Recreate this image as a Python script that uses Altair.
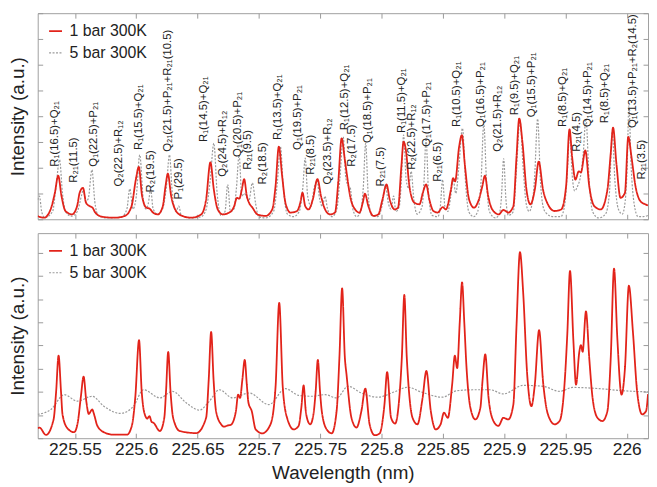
import altair as alt
import pandas as pd

S1 = "1 bar 300K"
S2 = "5 bar 300K"

# (wavelength nm, intensity a.u.)
top_1bar = [
    (225.5197, 0.12), (225.5248, 0.06), (225.5302, 0.38), (225.5337, 1.03), (225.5364, 1.69),
    (225.5391, 0.9), (225.5423, 0.32), (225.5477, 0.19), (225.5518, 0.51), (225.5539, 1.03),
    (225.5566, 1.22), (225.5591, 0.64), (225.5620, 0.51), (225.5644, 0.45), (225.5666, 0.26),
    (225.5720, 0.1), (225.5827, 0.06), (225.5908, 0.13), (225.5962, 0.51), (225.5997, 1.54),
    (225.6021, 2.03), (225.6048, 0.9), (225.6083, 0.45), (225.6110, 0.41), (225.6137, 0.26),
    (225.6177, 0.19), (225.6217, 0.51), (225.6239, 1.28), (225.6258, 1.77), (225.6285, 0.9),
    (225.6318, 0.38), (225.6366, 0.15), (225.6449, 0.06), (225.6530, 0.19), (225.6570, 0.77),
    (225.6605, 2.21), (225.6633, 1.15), (225.6665, 0.38), (225.6705, 0.19), (225.6759, 0.26),
    (225.6799, 0.51), (225.6821, 0.83), (225.6841, 0.8), (225.6861, 1.15), (225.6880, 1.56),
    (225.6902, 0.9), (225.6920, 0.64), (225.6948, 0.45), (225.6988, 0.19), (225.7055, 0.13),
    (225.7109, 0.38), (225.7136, 1.28), (225.7163, 2.82), (225.7190, 1.67), (225.7217, 0.64),
    (225.7257, 0.26), (225.7311, 0.32), (225.7338, 0.64), (225.7356, 1.03), (225.7378, 0.51),
    (225.7405, 0.38), (225.7440, 0.77), (225.7478, 1.56), (225.7507, 0.9), (225.7540, 0.38),
    (225.7580, 0.19), (225.7621, 0.26), (225.7647, 1.41), (225.7675, 3.14), (225.7701, 2.31),
    (225.7718, 1.73), (225.7744, 0.9), (225.7785, 0.38), (225.7820, 0.26), (225.7847, 0.64),
    (225.7865, 0.99), (225.7893, 0.51), (225.7933, 0.13), (225.7974, 0.19), (225.8008, 0.77),
    (225.8041, 1.35), (225.8067, 0.77), (225.8108, 0.38), (225.8135, 0.45), (225.8162, 2.05),
    (225.8180, 3.01), (225.8202, 2.57), (225.8224, 1.41), (225.8243, 0.9), (225.8269, 0.64),
    (225.8310, 0.58), (225.8337, 1.03), (225.8364, 1.35), (225.8390, 0.77), (225.8423, 0.32),
    (225.8458, 0.26), (225.8499, 0.47), (225.8525, 0.38), (225.8566, 1.15), (225.8584, 1.6),
    (225.8600, 1.47), (225.8633, 2.82), (225.8655, 3.27), (225.8681, 2.05), (225.8714, 0.77),
    (225.8754, 0.45), (225.8794, 0.77), (225.8822, 1.28), (225.8843, 1.69), (225.8870, 0.9),
    (225.8903, 0.38), (225.8956, 0.19), (225.8994, 0.36), (225.9034, 0.26), (225.9075, 0.51),
    (225.9101, 2.43), (225.9123, 3.91), (225.9150, 2.95), (225.9182, 1.15), (225.9214, 0.58),
    (225.9250, 1.15), (225.9282, 2.24), (225.9317, 1.15), (225.9357, 0.58), (225.9411, 0.32),
    (225.9465, 0.38), (225.9505, 1.28), (225.9533, 3.49), (225.9554, 2.43), (225.9581, 1.54),
    (225.9608, 1.86), (225.9626, 1.82), (225.9662, 2.67), (225.9694, 1.28), (225.9735, 0.51),
    (225.9788, 0.38), (225.9842, 1.15), (225.9869, 2.56), (225.9888, 3.56), (225.9915, 2.18),
    (225.9949, 0.83), (225.9985, 1.03), (226.0012, 3.2), (226.0038, 2.43), (226.0071, 1.28),
    (226.0111, 0.7), (226.0151, 0.58), (226.0173, 0.54),
]

top_5bar = [
    (225.5197, 0.75), (225.5211, 0.9), (225.5229, 0.3), (225.5254, 0.06), (225.5318, 0.3),
    (225.5347, 1.3), (225.5375, 2.31), (225.5399, 1.0), (225.5423, 0.3), (225.5472, 0.12),
    (225.5520, 0.3), (225.5553, 0.9), (225.5569, 1.15), (225.5589, 0.7), (225.5609, 0.8),
    (225.5639, 1.92), (225.5662, 0.7), (225.5690, 0.15), (225.5763, 0.05), (225.5884, 0.1),
    (225.5924, 0.4), (225.5948, 1.18), (225.5973, 0.4), (225.6001, 0.9), (225.6029, 2.5),
    (225.6057, 0.8), (225.6078, 0.4), (225.6098, 0.6), (225.6118, 1.15), (225.6138, 0.4),
    (225.6175, 0.2), (225.6215, 0.4), (225.6247, 1.3), (225.6271, 2.5), (225.6296, 0.9),
    (225.6324, 0.3), (225.6347, 0.51), (225.6368, 0.15), (225.6449, 0.05), (225.6530, 0.1),
    (225.6571, 0.4), (225.6603, 1.5), (225.6633, 2.95), (225.6660, 1.0), (225.6692, 0.15),
    (225.6724, 0.3), (225.6746, 1.35), (225.6768, 0.3), (225.6797, 0.4), (225.6817, 1.2),
    (225.6839, 2.5), (225.6861, 0.9), (225.6881, 1.0), (225.6897, 0.9), (225.6918, 0.7),
    (225.6947, 1.41), (225.6974, 0.6), (225.6998, 0.1), (225.7055, 0.05), (225.7120, 0.3),
    (225.7152, 1.5), (225.7176, 2.82), (225.7200, 1.2), (225.7233, 0.2), (225.7281, 0.1),
    (225.7329, 0.3), (225.7358, 1.2), (225.7378, 2.37), (225.7398, 0.9), (225.7426, 0.5),
    (225.7450, 1.2), (225.7475, 1.5), (225.7495, 0.8), (225.7519, 0.5), (225.7539, 0.9),
    (225.7560, 0.4), (225.7596, 0.1), (225.7636, 0.4), (225.7661, 1.6), (225.7688, 3.2),
    (225.7709, 1.6), (225.7729, 1.3), (225.7746, 1.2), (225.7766, 0.4), (225.7798, 0.1),
    (225.7830, 0.3), (225.7851, 1.2), (225.7871, 2.95), (225.7891, 1.0), (225.7919, 0.15),
    (225.7968, 0.1), (225.8008, 0.6), (225.8032, 1.3), (225.8057, 0.6), (225.8077, 0.4),
    (225.8099, 0.9), (225.8117, 0.3), (225.8145, 0.5), (225.8162, 1.5), (225.8180, 3.27),
    (225.8202, 1.5), (225.8222, 1.2), (225.8242, 1.86), (225.8263, 0.8), (225.8291, 0.2),
    (225.8331, 0.5), (225.8347, 1.5), (225.8363, 3.14), (225.8384, 1.0), (225.8412, 0.15),
    (225.8460, 0.1), (225.8480, 0.5), (225.8498, 1.54), (225.8517, 0.5), (225.8541, 0.3),
    (225.8565, 0.9), (225.8584, 1.55), (225.8606, 1.0), (225.8630, 2.0), (225.8660, 3.53),
    (225.8687, 1.3), (225.8711, 0.3), (225.8751, 0.1), (225.8784, 0.3), (225.8812, 1.5),
    (225.8834, 3.72), (225.8856, 1.5), (225.8880, 0.3), (225.8929, 0.05), (225.8961, 0.2),
    (225.8977, 0.8), (225.8996, 2.35), (225.9014, 0.8), (225.9034, 0.15), (225.9075, 0.3),
    (225.9099, 1.8), (225.9129, 3.85), (225.9155, 2.0), (225.9180, 0.6), (225.9204, 0.3),
    (225.9228, 0.6), (225.9248, 1.6), (225.9273, 3.9), (225.9297, 1.4), (225.9317, 0.5),
    (225.9341, 0.25), (225.9398, 0.1), (225.9462, 0.1), (225.9495, 0.6), (225.9515, 1.8),
    (225.9535, 3.45), (225.9555, 1.7), (225.9575, 1.1), (225.9600, 1.3), (225.9620, 1.6),
    (225.9644, 2.5), (225.9667, 3.91), (225.9693, 1.5), (225.9721, 0.3), (225.9769, 0.05),
    (225.9826, 0.2), (225.9858, 1.0), (225.9882, 3.4), (225.9903, 1.5), (225.9931, 0.4),
    (225.9963, 0.2), (225.9987, 0.7), (226.0003, 2.0), (226.0017, 4.4), (226.0036, 2.0),
    (226.0060, 0.6), (226.0092, 0.1), (226.0133, 0.1), (226.0173, 0.15),
]

bottom_1bar = [
    (225.5197, 0.43), (225.5211, 0.46), (225.5264, 0.14), (225.5326, 0.8), (225.5347, 2.0),
    (225.5367, 3.56), (225.5387, 2.0), (225.5399, 1.03), (225.5439, 0.43), (225.5494, 0.26),
    (225.5524, 0.7), (225.5549, 1.8), (225.5571, 2.66), (225.5593, 1.6), (225.5613, 1.05),
    (225.5641, 1.24), (225.5658, 1.0), (225.5682, 0.55), (225.5736, 0.26), (225.5817, 0.15),
    (225.5924, 0.15), (225.5965, 0.55), (225.5993, 1.8), (225.6023, 4.23), (225.6045, 2.0),
    (225.6066, 1.1), (225.6090, 0.85), (225.6108, 0.95), (225.6126, 0.7), (225.6140, 0.67),
    (225.6193, 0.31), (225.6229, 0.88), (225.6243, 2.0), (225.6261, 3.73), (225.6280, 2.0),
    (225.6301, 0.88), (225.6355, 0.31), (225.6490, 0.22), (225.6570, 0.88), (225.6591, 2.5),
    (225.6611, 4.59), (225.6631, 2.5), (225.6651, 1.17), (225.6692, 0.6), (225.6716, 0.5),
    (225.6748, 0.55), (225.6772, 0.58), (225.6813, 1.17), (225.6831, 1.88), (225.6847, 1.74),
    (225.6865, 2.5), (225.6885, 3.38), (225.6902, 2.3), (225.6915, 1.54), (225.6942, 1.17),
    (225.6974, 0.38), (225.7028, 0.21), (225.7095, 0.6), (225.7136, 2.2), (225.7166, 5.84),
    (225.7195, 2.2), (225.7230, 0.88), (225.7284, 0.38), (225.7324, 0.53), (225.7346, 1.3),
    (225.7365, 2.28), (225.7382, 1.2), (225.7392, 0.88), (225.7419, 0.6), (225.7445, 1.03),
    (225.7463, 2.0), (225.7481, 3.38), (225.7499, 2.0), (225.7513, 1.17), (225.7553, 0.38),
    (225.7594, 0.21), (225.7634, 1.17), (225.7657, 3.5), (225.7679, 6.47), (225.7701, 3.5),
    (225.7715, 2.74), (225.7755, 0.88), (225.7796, 0.46), (225.7836, 1.17), (225.7868, 2.14),
    (225.7903, 0.6), (225.7944, 0.13), (225.7984, 0.2), (225.8024, 1.45), (225.8046, 2.85),
    (225.8078, 0.88), (225.8111, 0.63), (225.8145, 1.74), (225.8166, 3.5), (225.8186, 6.18),
    (225.8206, 3.5), (225.8218, 2.45), (225.8253, 0.88), (225.8293, 0.6), (225.8334, 1.7),
    (225.8366, 2.9), (225.8402, 1.17), (225.8442, 0.38), (225.8482, 0.6), (225.8509, 1.1),
    (225.8541, 0.88), (225.8576, 2.31), (225.8598, 3.56), (225.8617, 3.02), (225.8638, 5.0),
    (225.8657, 6.72), (225.8675, 5.0), (225.8692, 3.16), (225.8725, 1.31), (225.8765, 0.81),
    (225.8806, 1.31), (225.8824, 2.5), (225.8846, 3.62), (225.8873, 1.74), (225.8913, 0.74),
    (225.8953, 0.53), (225.8994, 0.88), (225.9034, 0.81), (225.9075, 1.45), (225.9101, 4.87),
    (225.9129, 8.03), (225.9155, 6.3), (225.9188, 2.74), (225.9222, 1.38), (225.9250, 2.31),
    (225.9285, 4.66), (225.9317, 2.45), (225.9357, 1.03), (225.9411, 0.6), (225.9452, 0.74),
    (225.9492, 2.31), (225.9515, 4.5), (225.9537, 7.22), (225.9565, 4.16), (225.9586, 2.31),
    (225.9613, 3.73), (225.9626, 4.02), (225.9640, 3.73), (225.9667, 5.47), (225.9694, 3.45),
    (225.9721, 1.74), (225.9761, 0.88), (225.9801, 0.74), (225.9842, 1.17), (225.9869, 3.45),
    (225.9896, 7.32), (225.9923, 4.3), (225.9957, 1.88), (225.9985, 3.02), (226.0017, 6.58),
    (226.0050, 4.59), (226.0084, 2.03), (226.0125, 1.03), (226.0157, 1.17), (226.0173, 1.9),
]

bottom_5bar = [
    (225.5197, 1.03), (225.5305, 1.24), (225.5413, 1.88), (225.5520, 1.6), (225.5641, 1.81),
    (225.5736, 1.38), (225.5870, 1.07), (225.5978, 1.38), (225.6059, 2.09), (225.6193, 1.74),
    (225.6296, 2.02), (225.6409, 1.52), (225.6516, 1.21), (225.6597, 1.6), (225.6678, 2.09),
    (225.6786, 1.74), (225.6920, 1.95), (225.7082, 1.45), (225.7217, 2.14), (225.7324, 1.85),
    (225.7432, 1.81), (225.7540, 1.88), (225.7634, 1.74), (225.7728, 2.24), (225.7836, 1.95),
    (225.7970, 1.77), (225.8105, 2.0), (225.8213, 2.2), (225.8321, 2.0), (225.8495, 1.77),
    (225.8617, 2.05), (225.8751, 2.09), (225.8886, 2.09), (225.8994, 1.91), (225.9155, 2.28),
    (225.9317, 2.24), (225.9452, 2.02), (225.9559, 2.19), (225.9775, 2.14), (225.9963, 2.05),
    (226.0173, 2.0),
]

# line assignments written on the top panel, placed at (wavelength, intensity)
peak_labels = [
    ("R\u2081(16.5)+Q\u2082\u2081", 225.5342, 2.04),
    ("R\u2082\u2081(11.5)", 225.5496, 1.42),
    ("Q\u2081(22.5)+P\u2082\u2081", 225.5658, 2.04),
    ("Q\u2082(22.5)+R\u2081\u2082", 225.5860, 1.27),
    ("R\u2081(15.5)+Q\u2082\u2081", 225.6021, 2.69),
    ("R\u2082(19.5)", 225.6118, 1.04),
    ("Q\u2082\u2081(21.5)+P\u2082\u2081+R\u2082\u2081(10.5)", 225.6263, 2.62),
    ("P\u2081(29.5)", 225.6352, 0.77),
    ("R\u2081(14.5)+Q\u2082\u2081", 225.6554, 3.0),
    ("Q\u2082(24.5)+R\u2081\u2082", 225.6708, 1.65),
    ("Q\u2081(20.5)+P\u2082\u2081", 225.6829, 2.42),
    ("R\u2082\u2081(9.5)", 225.6910, 1.92),
    ("R\u2082(18.5)", 225.7031, 1.35),
    ("R\u2081(13.5)+Q\u2082\u2081", 225.7160, 3.08),
    ("Q\u2081(19.5)+P\u2082\u2081", 225.7322, 2.69),
    ("R\u2082\u2081(8.5)", 225.7427, 1.73),
    ("Q\u2082(23.5)+R\u2081\u2082", 225.7564, 1.35),
    ("R\u2081(12.5)+Q\u2082\u2081", 225.7701, 3.46),
    ("R\u2082(17.5)", 225.7758, 2.04),
    ("Q\u2081(18.5)+P\u2082\u2081", 225.7887, 2.96),
    ("R\u2082\u2081(7.5)", 225.8000, 1.27),
    ("R\u2081(11.5)+Q\u2082\u2081", 225.8170, 3.35),
    ("R\u2082(22.5)+R\u2081\u2082", 225.8251, 1.92),
    ("Q\u2081(17.5)+P\u2082\u2081", 225.8372, 2.81),
    ("R\u2082\u2081(6.5)", 225.8461, 1.46),
    ("R\u2081(10.5)+Q\u2082\u2081", 225.8614, 3.58),
    ("Q\u2081(16.5)+P\u2082\u2081", 225.8808, 3.58),
    ("Q\u2082(21.5)+R\u2081\u2082", 225.8953, 2.62),
    ("R\u2081(9.5)+Q\u2082\u2081", 225.9091, 4.04),
    ("Q\u2081(15.5)+P\u2082\u2081", 225.9228, 3.96),
    ("R\u2081(8.5)+Q\u2082\u2081", 225.9479, 3.58),
    ("R\u2082\u2081(4.5)", 225.9592, 2.62),
    ("Q\u2081(14.5)+P\u2082\u2081", 225.9681, 3.58),
    ("R\u2081(8.5)+Q\u2082\u2081", 225.9826, 3.73),
    ("Q\u2081(13.5)+P\u2082\u2081+R\u2082(14.5)", 226.0052, 3.54),
    ("R\u2082\u2081(3.5)", 226.0125, 1.54),
]

x_ticks = [225.55, 225.6, 225.65, 225.7, 225.75, 225.8, 225.85, 225.9, 225.95, 226.0]
y_ticks = [0, 1, 2, 3, 4, 5, 6, 7, 8]
x_domain = [225.5197, 226.0173]

FONT = "Liberation Sans"
RED = "#e2231a"
GREY = "#9b9b9b"
TICK = "#9a9a9a"
INK = "#222222"


def frame(rows, name):
    return pd.DataFrame({"wl": [r[0] for r in rows], "int": [r[1] for r in rows], "series": name})


def inner_axis(orient, **kw):
    # ticks pointing into the plot: push the axis in by its tick length
    return alt.Axis(orient=orient, offset=-5, tickSize=5, tickColor=TICK, domain=False, grid=False,
                    labelFont=FONT, titleFont=FONT, labelColor=INK, titleColor=INK,
                    titleFontWeight="normal", **kw)


def panel(red_rows, grey_rows, ymax, height, show_x_labels, labels_df=None):
    xs = alt.Scale(domain=x_domain, nice=False, zero=False)
    ys = alt.Scale(domain=[0, ymax], nice=False, zero=False)
    if show_x_labels:
        x_bottom = inner_axis("bottom", values=x_ticks, format="~f", labelFontSize=17.5, labelPadding=2,
                              titleFontSize=19, titlePadding=6)
    else:
        x_bottom = inner_axis("bottom", values=x_ticks, labels=False)
    color = alt.Color("series:N", title=None,
                      scale=alt.Scale(domain=[S1, S2], range=[RED, GREY]))
    dash = alt.StrokeDash("series:N", title=None,
                          scale=alt.Scale(domain=[S1, S2], range=[[1, 0], [2, 1.5]]))
    width = alt.StrokeWidth("series:N", title=None,
                            scale=alt.Scale(domain=[S1, S2], range=[1.8, 1.2]))

    grey = alt.Chart(frame(grey_rows, S2)).mark_line(interpolate="monotone", clip=True).encode(
        x=alt.X("wl:Q", scale=xs, axis=inner_axis("top", values=x_ticks, labels=False), title=None),
        y=alt.Y("int:Q", scale=ys, axis=inner_axis("right", values=y_ticks, labels=False), title=None),
        color=color, strokeDash=dash, strokeWidth=width,
    )
    red = alt.Chart(frame(red_rows, S1)).mark_line(interpolate="monotone", clip=True).encode(
        x=alt.X("wl:Q", scale=xs, axis=x_bottom, title="Wavelength (nm)" if show_x_labels else None),
        y=alt.Y("int:Q", scale=ys, title="Intensity (a.u.)",
                axis=inner_axis("left", values=y_ticks, labels=False, titleFontSize=19, titlePadding=10)),
        color=color, strokeDash=dash, strokeWidth=width,
    )
    layers = [grey, red]
    if labels_df is not None:
        text = alt.Chart(labels_df).mark_text(angle=270, align="left", baseline="middle",
                                              font=FONT, fontSize=11.5, color=INK).encode(
            x=alt.X("wl:Q", scale=xs, axis=None),
            y=alt.Y("int:Q", scale=ys, axis=None),
            text="label:N",
        )
        layers.append(text)
    return alt.layer(*layers).resolve_scale(x="independent", y="independent").resolve_axis(
        x="independent", y="independent"
    ).properties(width=616, height=height)


labels_df = pd.DataFrame({
    "label": [p[0] for p in peak_labels],
    "wl": [p[1] for p in peak_labels],
    "int": [p[2] for p in peak_labels],
})

top = panel(top_1bar, top_5bar, 8, 208, False, labels_df)
bottom = panel(bottom_1bar, bottom_5bar, 8.85, 207, True)

chart = alt.vconcat(top, bottom, spacing=12).resolve_scale(
    color="independent", strokeDash="independent", strokeWidth="independent"
).properties(
    padding={"left": 0, "top": 2, "right": 0, "bottom": 0},
    background="white",
).configure_view(
    stroke="#a0a0a0", strokeWidth=1
).configure_legend(
    orient="top-left", offset=10, padding=0, labelFont=FONT, labelFontSize=16, labelColor=INK,
    symbolType="stroke", symbolSize=170, rowPadding=6, labelOffset=6
)

chart.save("out.html", embed_options={"renderer": "svg", "actions": False})
